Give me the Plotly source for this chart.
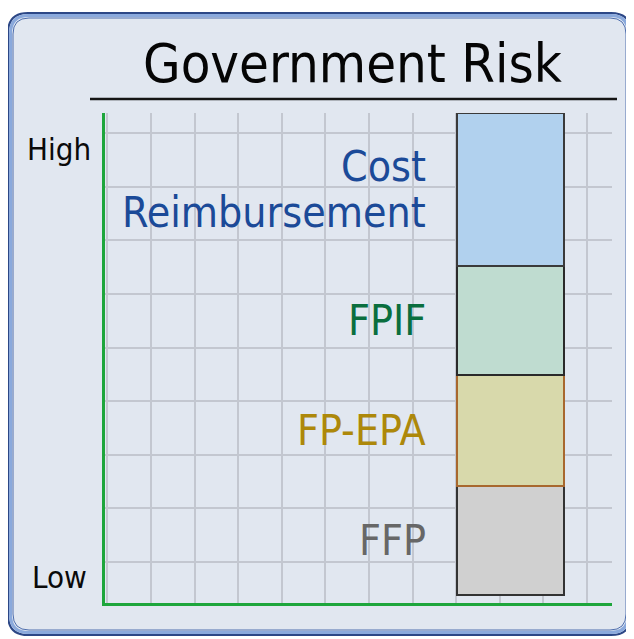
import plotly.graph_objects as go

# ---- data ----
categories = ["FFP", "FP-EPA", "FPIF", "Cost Reimbursement"]
label_lines = [["FFP"], ["FP-EPA"], ["FPIF"], ["Cost", "Reimbursement"]]
risk_segment = [109, 111, 109, 153]          # stacked height of each contract type
bar_colors = ["#d0d0d0", "#d8d9ab", "#bfdcd0", "#b1d1ee"]
edge_colors = ["#333333", "#a8682e", "#2a2a2a", "#3a3a3a"]
text_colors = ["#676767", "#ad880a", "#0a6e3e", "#1b4a98"]
axis_labels = ["High", "Low"]
title_text = "Government Risk"

# ---- layout geometry (pixels in the final screenshot) ----
OFF = 8                      # page body margin
W, H = 634 - OFF, 639 - OFF
L, R, T, B = 105, 612, 113, 603
Y0 = -8
YMAX = Y0 + (B - T)
LINE_GAP = 46                # px between stacked label lines


def px(x):
    return (x - L) / (R - L)


def py(y):
    return (B - y) / (B - T)


def rrect(x0, y0, x1, y1, r):
    X0, X1 = px(x0), px(x1)
    Y0_, Y1 = py(y0), py(y1)
    rx = r / (R - L)
    ry = r / (B - T)
    return (f"M {X0+rx},{Y0_} L {X1-rx},{Y0_} Q {X1},{Y0_} {X1},{Y0_-ry} "
            f"L {X1},{Y1+ry} Q {X1},{Y1} {X1-rx},{Y1} L {X0+rx},{Y1} "
            f"Q {X0},{Y1} {X0},{Y1+ry} L {X0},{Y0_-ry} Q {X0},{Y0_} {X0+rx},{Y0_} Z")


FONT = "DejaVu Sans Condensed, Liberation Sans, Arial, sans-serif"
bar_x = 405.5
bar_w = 107

fig = go.Figure()
for cat, h, c, ec in zip(categories, risk_segment, bar_colors, edge_colors):
    fig.add_trace(go.Bar(
        x=[bar_x], y=[h], name=cat, width=bar_w,
        marker=dict(color=c, line=dict(color=ec, width=2.5)),
        hoverinfo="name", showlegend=False,
    ))

annotations = []
base = 0
for lines, h, tc in zip(label_lines, risk_segment, text_colors):
    mid = base + h / 2
    n = len(lines)
    for i, txt in enumerate(lines):
        yv = mid + ((n - 1) / 2 - i) * LINE_GAP
        annotations.append(dict(
            x=px(428), y=(yv - Y0) / (YMAX - Y0), xref="paper", yref="paper",
            text=txt, showarrow=False, xanchor="right", yanchor="middle", align="right",
            font=dict(family=FONT, size=42.5, color=tc),
        ))
    base += h

annotations.append(dict(x=px(59), y=py(149), xref="paper", yref="paper", text=axis_labels[0],
                        showarrow=False, xanchor="center", yanchor="middle",
                        font=dict(family=FONT, size=31, color="#0a0a0a")))
annotations.append(dict(x=px(59), y=py(577), xref="paper", yref="paper", text=axis_labels[1],
                        showarrow=False, xanchor="center", yanchor="middle",
                        font=dict(family=FONT, size=31, color="#0a0a0a")))
annotations.append(dict(x=px(352), y=py(63), xref="paper", yref="paper", text=title_text,
                        showarrow=False, xanchor="center", yanchor="middle",
                        font=dict(family=FONT, size=54, color="#050505")))

shapes = [
    dict(type="path", path=rrect(8, 13, 631, 635, 20), xref="paper", yref="paper",
         fillcolor="#e1e7f0", line=dict(color="#2c4786", width=2), layer="below"),
    dict(type="path", path=rrect(10.5, 15.5, 628.5, 632.5, 18), xref="paper", yref="paper",
         fillcolor="rgba(0,0,0,0)", line=dict(color="#8aa9dc", width=3), layer="below"),
    dict(type="path", path=rrect(13, 18, 626, 630, 16), xref="paper", yref="paper",
         fillcolor="rgba(0,0,0,0)", line=dict(color="#4f6fae", width=1), layer="below"),
    dict(type="line", x0=px(90), x1=px(617), y0=py(99), y1=py(99), xref="paper", yref="paper",
         line=dict(color="#151515", width=2.5)),
]

fig.update_layout(
    width=W, height=H,
    margin=dict(l=L - OFF, r=W - (R - OFF), t=T - OFF, b=H - (B - OFF), pad=0),
    paper_bgcolor="#ffffff",
    plot_bgcolor="rgba(0,0,0,0)",
    barmode="stack",
    bargap=0,
    annotations=annotations,
    shapes=shapes,
    xaxis=dict(range=[0, R - L], showticklabels=False, ticks="", zeroline=False,
               showgrid=True, gridcolor="#c3c7d0", gridwidth=2, tick0=46, dtick=43.6,
               showline=True, linecolor="#1ea63c", linewidth=3, fixedrange=True),
    yaxis=dict(range=[Y0, YMAX], showticklabels=False, ticks="", zeroline=False,
               showgrid=True, gridcolor="#c3c7d0", gridwidth=2, tick0=33, dtick=53.6,
               showline=True, linecolor="#1ea63c", linewidth=3, fixedrange=True),
)

fig.write_html("out.html")
